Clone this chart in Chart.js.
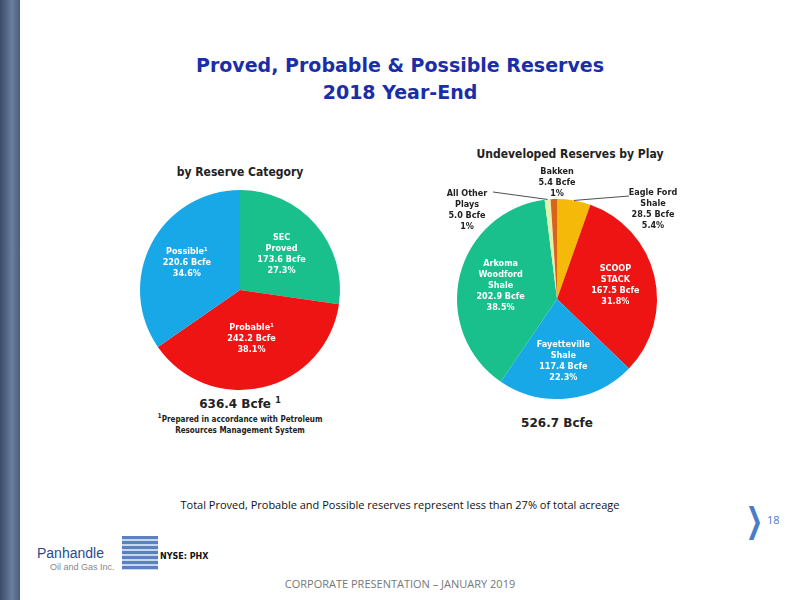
<!DOCTYPE html>
<html>
<head>
<meta charset="utf-8">
<script src="https://cdn.jsdelivr.net/npm/chart.js@4"></script>
<style>
body { margin: 0; width: 800px; height: 600px; position: relative; background: #fff; font-family: "DejaVu Sans", sans-serif; overflow: hidden; }
.bar { position: absolute; left: 0; top: 0; width: 20px; height: 600px; background: linear-gradient(to right, #3a4a68, #6a7ea0 60%, #4c5d7c); }
.t { position: absolute; left: 0; width: 800px; text-align: center; }
#c1 { position: absolute; left: 120px; top: 175px; }
#c2 { position: absolute; left: 407px; top: 164px; }
</style>
</head>
<body>
<div class="bar"></div>
<div class="t" style="top:52px;font:bold 19px 'DejaVu Sans';color:#1a2ea8;line-height:27px">Proved, Probable &amp; Possible Reserves<br>2018 Year-End</div>
<div class="t" style="top:165px;left:-160px;font:bold 12px 'DejaVu Sans Condensed';color:#222">by Reserve Category</div>
<div class="t" style="top:147px;left:170px;font:bold 12px 'DejaVu Sans Condensed';color:#222">Undeveloped Reserves by Play</div>
<div class="t" style="top:396px;left:-160px;font:bold 12px 'DejaVu Sans';color:#222">636.4 Bcfe <sup style="font-size:8px">1</sup></div>
<div class="t" style="top:411px;left:-160px;font:bold 8px 'DejaVu Sans Condensed';color:#222;line-height:11px"><sup>1</sup>Prepared in accordance with Petroleum<br>Resources Management System</div>
<div class="t" style="top:416px;left:157px;font:bold 12px 'DejaVu Sans';color:#222">526.7 Bcfe</div>
<div class="t" style="top:497px;font:11px 'Open Sans';color:#111">Total Proved, Probable and Possible reserves represent less than 27% of total acreage</div>
<div style="position:absolute;left:740px;top:500px;font:bold 34px 'DejaVu Sans';color:#4a7cc8;transform:scaleX(0.6)">&#x276F;</div>
<div style="position:absolute;left:767px;top:512px;font:11px 'Open Sans';color:#4a7cc8">18</div>
<div style="position:absolute;left:37px;top:545px;font:14px 'Liberation Sans Narrow','Liberation Sans';color:#2a4a90">Panhandle</div>
<div style="position:absolute;left:50px;top:562px;font:9px 'Liberation Sans';color:#888">Oil and Gas Inc.</div>
<div style="position:absolute;left:122px;top:536px;width:36px;height:34px;background:repeating-linear-gradient(#5a82c0 0 3px,#c8d6ee 3px 5px)"></div>
<div style="position:absolute;left:160px;top:552px;font:bold 8px 'DejaVu Sans';color:#111">NYSE: PHX</div>
<div class="t" style="top:576px;font:11px 'Open Sans';color:#777">CORPORATE PRESENTATION – JANUARY 2019</div>
<canvas id="c1" width="240" height="230"></canvas>
<canvas id="c2" width="300" height="270"></canvas>
<script>
const catLabels = ["SEC\nProved\n173.6 Bcfe\n27.3%", "Probable¹\n242.2 Bcfe\n38.1%", "Possible¹\n220.6 Bcfe\n34.6%"];
const catValues = [173.6, 242.2, 220.6];
const catColors = ["#19c08c", "#ee1414", "#18a8e8"];

const playLabels = ["Eagle Ford\nShale\n28.5 Bcfe\n5.4%", "SCOOP\nSTACK\n167.5 Bcfe\n31.8%", "Fayetteville\nShale\n117.4 Bcfe\n22.3%", "Arkoma\nWoodford\nShale\n202.9 Bcfe\n38.5%", "All Other\nPlays\n5.0 Bcfe\n1%", "Bakken\n5.4 Bcfe\n1%"];
const playValues = [28.5, 167.5, 117.4, 202.9, 5.0, 5.4];
const playColors = ["#f5b90a", "#ee1414", "#18a8e8", "#19c08c", "#e4f2b0", "#d8641c"];

// etiquetas: dentro da fatia ou fora com linha
const labelPlugin = {
	id: "sliceLabels",
	afterDatasetsDraw(chart, args, opts) {
		const ctx = chart.ctx;
		const labels = chart.data.labels;
		chart.getDatasetMeta(0).data.forEach((arc, i) => {
			const lines = labels[i].split("\n");
			const out = opts.outside[i];
			const mid = (arc.startAngle + arc.endAngle) / 2;
			let x, y;
			ctx.save();
			ctx.font = "bold 9px 'DejaVu Sans Condensed'";
			ctx.textAlign = "center";
			ctx.textBaseline = "middle";
			if (out) {
				x = out[0]; y = out[1];
				if (out.length > 2) {
					ctx.strokeStyle = "#222";
					ctx.lineWidth = 0.8;
					ctx.beginPath();
					ctx.moveTo(arc.x + Math.cos(mid) * arc.outerRadius, arc.y + Math.sin(mid) * arc.outerRadius);
					ctx.lineTo(out[2], out[3]);
					ctx.stroke();
				}
				ctx.fillStyle = "#222";
			} else {
				const r = arc.outerRadius * (opts.radius[i] || 0.55);
				x = arc.x + Math.cos(mid) * r;
				y = arc.y + Math.sin(mid) * r;
				ctx.fillStyle = "#fff";
			}
			const lh = 11;
			lines.forEach((l, k) => ctx.fillText(l, x, y + (k - (lines.length - 1) / 2) * lh));
			ctx.restore();
		});
	},
};

const pieOptions = (outside, radius) => ({
	responsive: false,
	animation: false,
	layout: { padding: 0 },
	plugins: {
		legend: { display: false },
		tooltip: { enabled: false },
		sliceLabels: { outside, radius },
	},
});

new Chart(document.getElementById("c1"), {
	type: "pie",
	data: { labels: catLabels, datasets: [{ data: catValues, backgroundColor: catColors, borderWidth: 0 }] },
	options: { ...pieOptions([null, null, null], [0.55, 0.5, 0.6]), radius: 100, cutout: 0 },
	plugins: [labelPlugin],
});

// posições das etiquetas externas relativas ao canvas da direita
new Chart(document.getElementById("c2"), {
	type: "pie",
	data: { labels: playLabels, datasets: [{ data: playValues, backgroundColor: playColors, borderWidth: 0 }] },
	options: {
		...pieOptions([[246, 45, 222, 32], null, null, null, [60, 46, 86, 28], [150, 19]], [0, 0.6, 0.62, 0.58]),
		radius: 100,
	},
	plugins: [labelPlugin],
});
</script>
</body>
</html>
